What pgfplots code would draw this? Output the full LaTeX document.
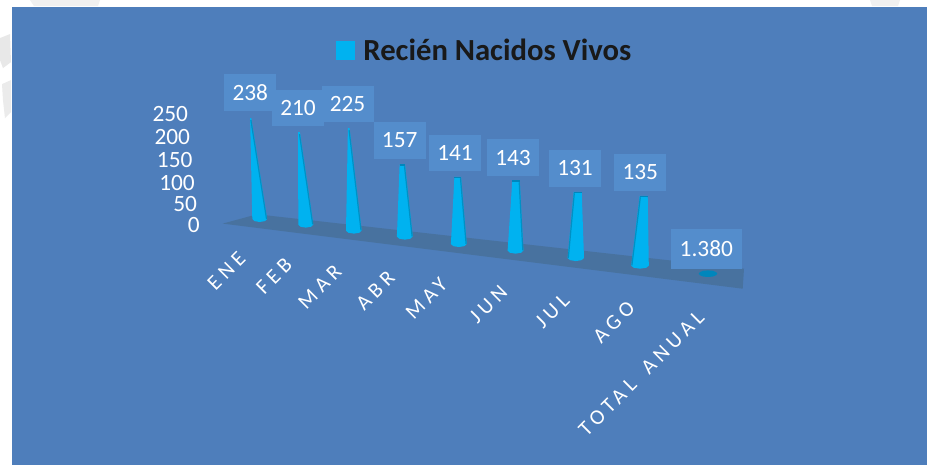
\documentclass[border=0pt]{standalone}
\usepackage{fontspec}
\setmainfont{Carlito}
\newfontfamily\spaced[LetterSpace=22,WordSpace=1.7]{Carlito}
\usepackage{pgfplots}
\usepackage{pgfplotstable}
\pgfplotsset{compat=1.18}

\definecolor{bgblue}{HTML}{4E7EBB}
\definecolor{floorc}{HTML}{48729F}
\definecolor{boxc}{HTML}{548DCC}
\definecolor{conec}{HTML}{00B2F0}
\definecolor{coneedge}{HTML}{0090C4}
\definecolor{capc}{HTML}{0086BC}

% value labels, x y in picture pixels
\pgfplotstableread[col sep=comma]{
x,y,label
250.3,92.3,238
298,108,210
347.5,103.7,225
399.7,140.3,157
455,152.7,141
513,157.3,143
575,168,131
640.3,172,135
}\values

\pgfplotstableread[col sep=comma]{
x,y,label
188.3,114,250
190.3,137.3,200
192.7,160,150
195,182.3,100
197.3,203.3,50
200,224.7,0
}\yticks

\pgfplotstableread[col sep=comma]{
x,y,label
226.3,270.5,ENE
274,276,FEB
319.7,286.7,MAR
375.3,290.3,ABR
426.3,298.3,MAY
488.3,303.7,JUN
552.3,310.7,JUL
614,322,AGO
641.3,373,TOTAL ANUAL
}\months

\newcommand{\cone}[1]{\addplot[draw=none,fill=conec] coordinates {#1} --cycle;}

\begin{document}
\begin{tikzpicture}
\begin{axis}[
    hide axis,
    scale only axis,
    width=695.25pt,
    height=348pt,
    xmin=0, xmax=927,
    ymin=0, ymax=464,
    y dir=reverse,
    unbounded coords=jump,
    legend style={at={(axis cs:336,35.5)},anchor=north west,draw=none,fill=none,inner sep=0pt,
        font=\fontsize{23}{25}\selectfont\bfseries\color{black!90}},
    legend cell align=left,
]
\addlegendimage{legend image code/.code={\fill[conec] (0pt,-6.75pt) rectangle (13.5pt,6.75pt);}}
\addlegendentry{\hspace*{4.5pt}Recién Nacidos Vivos}

% page behind the chart
\addplot[draw=none,fill=white] coordinates {(0,0) (927,0) (927,464) (0,464)} --cycle;
\addplot[draw=none,fill=black!9] coordinates {(0,38) (10,34) (11,62) (3,68) (0,60)} --cycle;
\addplot[draw=none,fill=black!8] coordinates {(2,84) (11,80) (11,112) (5,118) (3,100)} --cycle;
\addplot[draw=none,fill=black!6] coordinates {(30,0) (100,0) (98,6) (34,6)} --cycle;
\addplot[draw=none,fill=black!6] coordinates {(870,0) (900,0) (898,6) (872,6)} --cycle;
\addplot[draw=none,fill=bgblue] coordinates {(12,7) (927,7) (927,464) (12,464)} --cycle;

% floor
\addplot[draw=none,fill=floorc] coordinates {(222.7,223.3) (257,214) (744,268.3) (742.7,288.3)} --cycle;

% cones
\cone{(250.1,118)(251.3,118)(267.1,218.7)(264.9,220.8)(259.7,221.7)(254.5,220.8)(252.3,218.7)}
\cone{(298.1,132)(299.9,132)(313.3,224.3)(311.1,226.4)(305.8,227.3)(300.5,226.4)(298.3,224.3)}
\cone{(347.9,128)(349.5,128)(361.6,230.3)(359.3,232.4)(353.8,233.3)(348.3,232.4)(346,230.3)}
\cone{(399.6,164.3)(405,164.3)(412.7,236.3)(410.3,238.4)(404.8,239.3)(399.3,238.4)(396.9,236.3)}
\cone{(454.4,176.7)(461,176.7)(466.7,243.7)(464.3,245.8)(458.8,246.7)(453.3,245.8)(450.9,243.7)}
\cone{(512.3,180.3)(519.7,180.3)(523.4,250.3)(521,252.4)(515.5,253.3)(510,252.4)(507.6,250.3)}
\cone{(573.7,191.7)(581.7,191.7)(584,257.7)(581.5,259.8)(575.8,260.7)(570.1,259.8)(567.6,257.7)}
\cone{(639.7,195.7)(647.7,195.7)(648.8,265.3)(646.2,267.4)(640,268.3)(633.8,267.4)(631.2,265.3)}
% shaded edges of the cones
\addplot[coneedge,line width=0.9pt] coordinates {
    (250.9,120)(266.5,218.5) (nan,nan)
    (299.5,134)(312.7,224) (nan,nan)
    (349.1,130)(361,230) (nan,nan)
    (404.5,166)(412.1,236) (nan,nan)
    (460.5,178)(466.1,243.5) (nan,nan)
    (519.2,182)(522.8,250) (nan,nan)
    (574.3,193)(568.3,257.5) (nan,nan)
    (640.3,197)(631.9,265)};
% flattened cone of the annual total
\addplot[draw=none,fill=capc] coordinates {(698.7,273.3)(700,271.7)(703.3,270.4)(708,270)(712.7,270.4)(716,271.7)(717.3,273.3)(716,274.9)(712.7,276.2)(708,276.6)(703.3,276.2)(700,274.9)} --cycle;
% cone tops
\addplot[capc,line width=1pt] coordinates {
    (399.6,164.8)(405,164.8) (nan,nan)
    (454.4,177.2)(461,177.2) (nan,nan)
    (512.3,180.8)(519.7,180.8) (nan,nan)
    (573.7,192.2)(581.7,192.2) (nan,nan)
    (639.7,196.2)(647.7,196.2)};

% value boxes
\addplot[draw=none,mark=none,point meta=explicit symbolic,nodes near coords,
    nodes near coords style={anchor=center,fill=boxc,text=white,inner sep=0pt,
        minimum width=39pt,minimum height=27.5pt,font=\fontsize{17.5}{18}\selectfont}]
    table[x=x,y=y,meta=label] {\values};
\addplot[draw=none,mark=none,point meta=explicit symbolic,nodes near coords,
    nodes near coords style={anchor=center,fill=boxc,text=white,inner sep=0pt,
        minimum width=53pt,minimum height=29.5pt,font=\fontsize{17.5}{18}\selectfont}]
    table[x=x,y=y,meta=label,col sep=comma] {
x,y,label
706.3,248.7,1.380
};

% y tick labels
\addplot[draw=none,mark=none,point meta=explicit symbolic,nodes near coords,
    nodes near coords style={anchor=east,text=white,inner sep=0pt,font=\fontsize{17.5}{18}\selectfont}]
    table[x=x,y=y,meta=label] {\yticks};

% month labels
\addplot[draw=none,mark=none,point meta=explicit symbolic,nodes near coords,
    nodes near coords style={anchor=center,rotate=45,text=white,inner sep=0pt,font=\fontsize{16}{16}\selectfont\spaced}]
    table[x=x,y=y,meta=label] {\months};
\end{axis}
\end{tikzpicture}
\end{document}
